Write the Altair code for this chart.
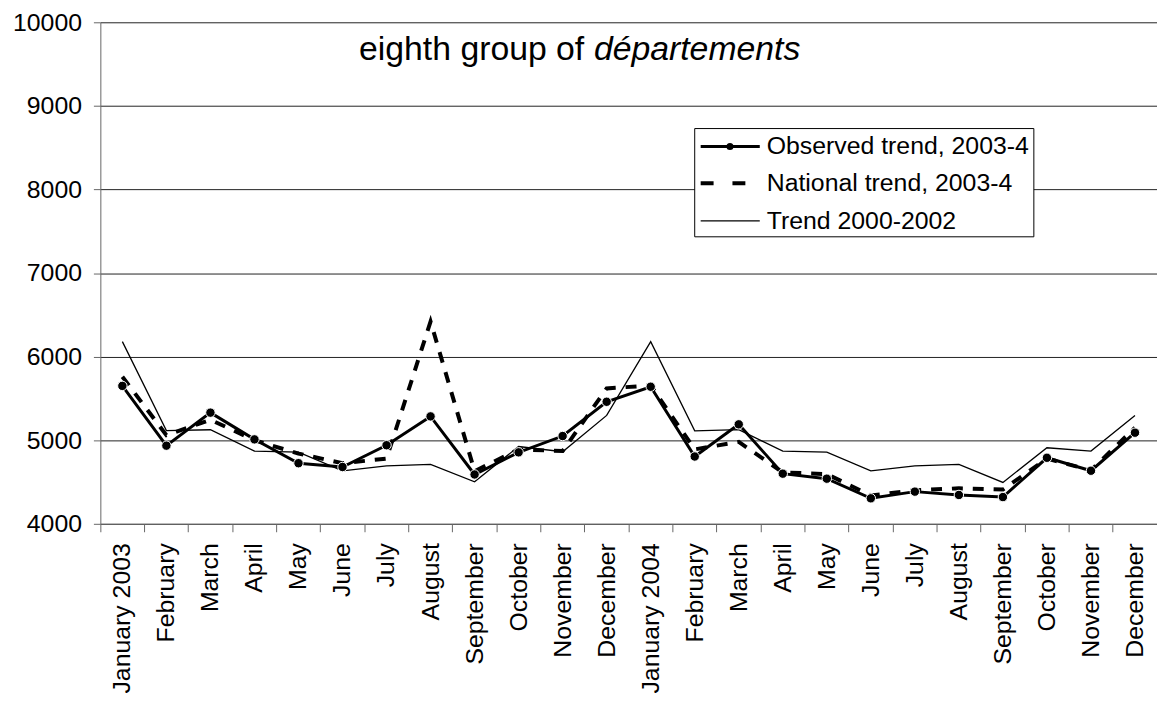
import altair as alt
import pandas as pd

month_labels = ["January 2003", "February", "March", "April", "May", "June", "July",
                "August", "September", "October", "November", "December",
                "January 2004", "February", "March", "April", "May", "June", "July",
                "August", "September", "October", "November", "December"]

observed = [5650, 4935, 5330, 5010, 4725, 4680, 4940, 5285, 4590, 4855, 5050, 5460,
            5640, 4805, 5190, 4600, 4540, 4305, 4385, 4345, 4320, 4790, 4635, 5090]
national = [5760, 5060, 5245, 5000, 4840, 4725, 4780, 6420, 4630, 4890, 4870, 5620,
            5655, 4890, 4980, 4615, 4595, 4340, 4400, 4425, 4410, 4780, 4640, 5150]
trend = [6180, 5115, 5125, 4870, 4858, 4633, 4692, 4712, 4502, 4925, 4862, 5297,
         6180, 5112, 5127, 4870, 4858, 4633, 4692, 4712, 4495, 4910, 4870, 5297]

series_names = ["Observed trend, 2003-4", "National trend, 2003-4", "Trend 2000-2002"]
title_plain = "eighth group of"
title_italic = "départements"
y_ticks = [4000, 5000, 6000, 7000, 8000, 9000, 10000]

FONT = "Liberation Sans"

rows = []
for i in range(len(month_labels)):
    rows.append({"idx": i, "series": series_names[0], "value": observed[i]})
    rows.append({"idx": i, "series": series_names[1], "value": national[i]})
    rows.append({"idx": i, "series": series_names[2], "value": trend[i]})
df = pd.DataFrame(rows)

label_expr = "[" + ",".join("'" + m + "'" for m in month_labels) + "][datum.value]"

x_enc = alt.X(
    "idx:O",
    scale=alt.Scale(type="band", paddingInner=0, paddingOuter=0),
    axis=alt.Axis(
        title=None, labelExpr=label_expr, labelAngle=270, labelAlign="right",
        labelBaseline="middle", bandPosition=0, tickSize=8,
        labelPadding=11, labelFontSize=25, labelFont=FONT, labelColor="#000",
        domainColor="#666", tickColor="#666", grid=False,
    ),
)
y_enc = alt.Y(
    "value:Q",
    scale=alt.Scale(domain=[4000, 10000], nice=False, zero=False),
    axis=alt.Axis(
        title=None, values=y_ticks, format="d", tickSize=7, labelPadding=12,
        labelFontSize=25, labelFont=FONT, labelColor="#000", domainColor="#666",
        tickColor="#666", grid=True, gridColor="#222", gridWidth=1,
    ),
)

base = alt.Chart(df).encode(x=x_enc, y=y_enc)

trend_line = base.transform_filter(alt.datum.series == series_names[2]).mark_line(
    color="black", strokeWidth=1.3)
national_line = base.transform_filter(alt.datum.series == series_names[1]).mark_line(
    color="black", strokeWidth=4, strokeDash=[11, 10])
observed_line = base.transform_filter(alt.datum.series == series_names[0]).mark_line(
    color="black", strokeWidth=3)
observed_pts = base.transform_filter(alt.datum.series == series_names[0]).mark_circle(
    size=90, fill="black", stroke="white", strokeWidth=1, opacity=1)

one = pd.DataFrame({"k": [0]})

title1 = alt.Chart(pd.DataFrame({"t": [title_plain]})).mark_text(
    align="left", baseline="alphabetic", fontSize=34, font=FONT, color="black"
).encode(text="t:N", x=alt.value(260.5), y=alt.value(38))
title2 = alt.Chart(pd.DataFrame({"t": [title_italic]})).mark_text(
    align="left", baseline="alphabetic", fontSize=34, font=FONT, fontStyle="italic",
    color="black"
).encode(text="t:N", x=alt.value(497), y=alt.value(38))

legend_box = alt.Chart(one).mark_rect(fill="white", stroke="black", strokeWidth=1).encode(
    x=alt.value(598.5), x2=alt.value(940), y=alt.value(107), y2=alt.value(216))

row_y = [125, 162, 200]
sym_x0, sym_x1 = 604.5, 664
leg_obs = alt.Chart(one).mark_rule(color="black", strokeWidth=3).encode(
    x=alt.value(sym_x0), x2=alt.value(sym_x1), y=alt.value(row_y[0]))
leg_obs_pt = alt.Chart(one).mark_circle(size=50, fill="black", opacity=1).encode(
    x=alt.value(634), y=alt.value(row_y[0]))
leg_nat = alt.Chart(one).mark_rule(color="black", strokeWidth=4, strokeDash=[13, 19]).encode(
    x=alt.value(sym_x0), x2=alt.value(sym_x1 + 2), y=alt.value(row_y[1]))
leg_tr = alt.Chart(one).mark_rule(color="black", strokeWidth=1.3).encode(
    x=alt.value(sym_x0), x2=alt.value(sym_x1), y=alt.value(row_y[2]))

leg_texts = []
for name, yy in zip(series_names, row_y):
    leg_texts.append(
        alt.Chart(pd.DataFrame({"t": [name]})).mark_text(
            align="left", baseline="middle", fontSize=25, font=FONT, color="black"
        ).encode(text="t:N", x=alt.value(671), y=alt.value(yy))
    )

chart = alt.layer(
    trend_line, national_line, observed_line, observed_pts,
    title1, title2, legend_box, leg_obs, leg_obs_pt, leg_nat, leg_tr, *leg_texts
).properties(
    width=1064, height=505,
    autosize=alt.AutoSizeParams(type="none"),
    padding={"left": 93, "top": 12, "right": 0, "bottom": 171},
    background="white",
).configure_view(stroke=None)

chart.save("out.html", embed_options={"renderer": "svg", "actions": False})
